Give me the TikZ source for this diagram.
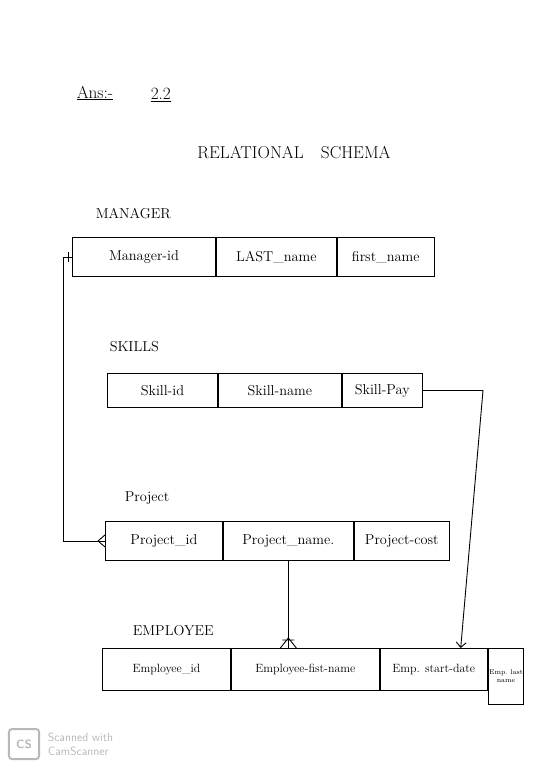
\documentclass[tikz,border=0pt]{standalone}
\usepackage{tikz}
\usetikzlibrary{arrows.meta}
\definecolor{scangray}{gray}{0.72}

\begin{document}
\begin{tikzpicture}[x=1bp, y=-1bp, line width=0.9bp,
	cell/.style={draw=black, anchor=north west, inner sep=1pt, font=\Large},
	tblname/.style={anchor=west, font=\Large}]
		\useasboundingbox (0,0) rectangle (560,765);

		\node[anchor=west, font=\LARGE] (ans) at (73,93) {\underline{Ans:-}};
		\node[anchor=west, font=\LARGE] (qno) at (147,95) {\underline{2.2}};
		\node[font=\LARGE] (heading) at (294,153) {RELATIONAL\quad SCHEMA};

		\node[tblname] (mgrlbl) at (92,214) {MANAGER};
		\node[cell, minimum width=143bp, minimum height=39bp] (mgrid) at (72,237) {Manager-id};
		\node[cell, minimum width=120bp, minimum height=39bp] (mgrlast) at (mgrid.north east) {LAST\_name};
		\node[cell, minimum width=97bp, minimum height=39bp] (mgrfirst) at (mgrlast.north east) {first\_name};

		\node[tblname] (sklbl) at (106,347) {SKILLS};
		\node[cell, minimum width=110bp, minimum height=34bp] (skid) at (107,373) {Skill-id};
		\node[cell, minimum width=123bp, minimum height=34bp] (skname) at (skid.north east) {Skill-name};
		\node[cell, minimum width=80bp, minimum height=34bp] (skpay) at (skname.north east) {Skill-Pay};

		\node[tblname] (prjlbl) at (121,498) {Project};
		\node[cell, minimum width=117bp, minimum height=39bp] (prjid) at (105,521) {Project\_id};
		\node[cell, minimum width=130bp, minimum height=39bp] (prjname) at (prjid.north east) {Project\_name.};
		\node[cell, minimum width=95bp, minimum height=39bp] (prjcost) at (prjname.north east) {Project-cost};

		\node[tblname] (emplbl) at (129,631) {EMPLOYEE};
		\node[cell, font=\large, minimum width=128bp, minimum height=42bp] (empid) at (102,648) {Employee\_id};
		\node[cell, font=\large, minimum width=148bp, minimum height=42bp] (empfirst) at (empid.north east) {Employee-fist-name};
		\node[cell, font=\large, minimum width=107bp, minimum height=42bp] (empstart) at (empfirst.north east) {Emp. start-date};
		\node[cell, font=\scriptsize, align=center, inner sep=1pt, minimum width=32bp, minimum height=56bp] (emplast) at (empstart.north east) {Emp.\ last\\name};

		\coordinate (loopL) at (63,0);
		\draw (mgrid.west) -- (mgrid.west -| loopL) -- (prjid.west -| loopL) -- (prjid.west);
		\draw ([xshift=-4bp,yshift=-5bp]mgrid.west) -- ([xshift=-4bp,yshift=5bp]mgrid.west);
		\draw ([xshift=-7bp]prjid.west) -- ([yshift=-6bp]prjid.west)
			([xshift=-7bp]prjid.west) -- ([yshift=6bp]prjid.west);

		\coordinate (footE) at (prjname.south |- empfirst.north);
		\draw (prjname.south) -- (footE);
		\draw ([yshift=10bp]footE) -- ([xshift=-8bp]footE)
			([yshift=10bp]footE) -- ([xshift=8bp]footE)
			([xshift=-6bp,yshift=8bp]footE) -- ([xshift=6bp,yshift=8bp]footE);

		\coordinate (turnR) at (483,0);
		\coordinate (arrEnd) at ([xshift=-27bp]empstart.north east);
		\draw[-{Straight Barb[length=5bp]}] (skpay.east) -- (skpay.east -| turnR) -- (arrEnd);

		\node[draw=scangray, line width=2bp, rounded corners=3bp, text=scangray, font=\sffamily\bfseries\large, minimum size=30bp] (cslogo) at (24,744) {CS};
		\node[anchor=west, text=scangray, font=\sffamily\large, align=left] (cstext) at ([xshift=4bp]cslogo.east) {Scanned with\\CamScanner};
	\end{tikzpicture}
\end{document}
